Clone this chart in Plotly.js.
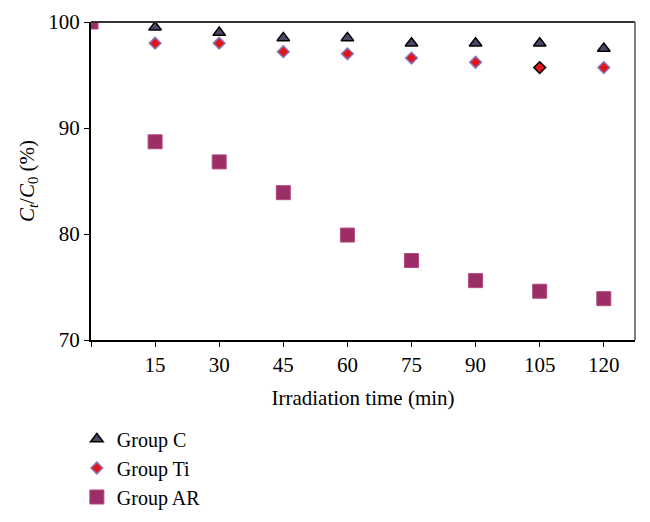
<!DOCTYPE html>
<html>
<head>
<meta charset="utf-8">
<script src="https://cdn.plot.ly/plotly-3.0.1.min.js"></script>
<style>html,body{margin:0;padding:0;background:#fff;}#chart{width:650px;height:522px;}</style>
</head>
<body>
<div id="chart"></div>
<script>
const time = [0, 15, 30, 45, 60, 75, 90, 105, 120];
const groupC = [100, 99.5, 99.0, 98.5, 98.5, 98.0, 98.0, 98.0, 97.5];
const groupTi = [100, 98.0, 98.0, 97.2, 97.0, 96.6, 96.2, 95.7, 95.7];
const groupAR = [100, 88.7, 86.8, 83.9, 79.9, 77.5, 75.6, 74.6, 73.9];
const xTicks = [15, 30, 45, 60, 75, 90, 105, 120];
const yTicks = [70, 80, 90, 100];
const names = ["Group C", "Group Ti", "Group AR"];

const font = "Liberation Serif, DejaVu Serif, serif";
const tiOutline = time.map(t => t === 105 ? "#000" : "#8c78b4");
const traces = [
  {x: time, y: groupC, name: names[0], type: "scatter", mode: "markers", cliponaxis: true,
   marker: {symbol: "triangle-up", size: 11, color: "#4a4a68", line: {color: "#000", width: 1.5}}},
  {x: time, y: groupTi, name: names[1], type: "scatter", mode: "markers", cliponaxis: true,
   marker: {symbol: "diamond", size: 9, color: "#e0141e", line: {color: tiOutline, width: 1.5}}},
  {x: time, y: groupAR, name: names[2], type: "scatter", mode: "markers", cliponaxis: true,
   marker: {symbol: "square", size: 14, color: "#9c2d66", line: {color: "#b04a80", width: 1}}}
];
const layout = {
  width: 650, height: 522,
  margin: {l: 91, r: 15, t: 22, b: 182, autoexpand: false},
  paper_bgcolor: "#fff", plot_bgcolor: "#fff",
  font: {family: font, size: 21, color: "#000"},
  showlegend: true,
  legend: {x: -0.026, y: -0.25, xanchor: "left", yanchor: "top", font: {family: font, size: 20, color: "#000"}, bgcolor: "rgba(0,0,0,0)"},
  xaxis: {range: [0, 127.3], tickvals: [0].concat(xTicks), ticktext: [""].concat(xTicks.map(String)),
    ticks: "outside", ticklen: 5, tickcolor: "#000", showgrid: false, zeroline: false,
    showline: true, linecolor: "#000", linewidth: 2, mirror: false, automargin: false,
    title: {text: "Irradiation time (min)", font: {family: font, size: 21}, standoff: 14}},
  yaxis: {range: [70, 100], tickvals: yTicks, ticks: "outside", ticklen: 5, tickcolor: "#000",
    showgrid: false, zeroline: false, showline: true, linecolor: "#000", linewidth: 2, automargin: false,
    title: {text: "<i>C</i><sub><i>t</i></sub>/<i>C</i><sub>0</sub> (%)", font: {family: font, size: 21}, standoff: 8}},
  shapes: [
    {type: "line", xref: "paper", yref: "paper", x0: 0, x1: 1, y0: 1, y1: 1, line: {color: "#333", width: 2}},
    {type: "line", xref: "paper", yref: "paper", x0: 1, x1: 1, y0: 0, y1: 1, line: {color: "#555", width: 1.5}}
  ]
};
Plotly.newPlot("chart", traces, layout, {displayModeBar: false, staticPlot: true});
</script>
</body>
</html>
